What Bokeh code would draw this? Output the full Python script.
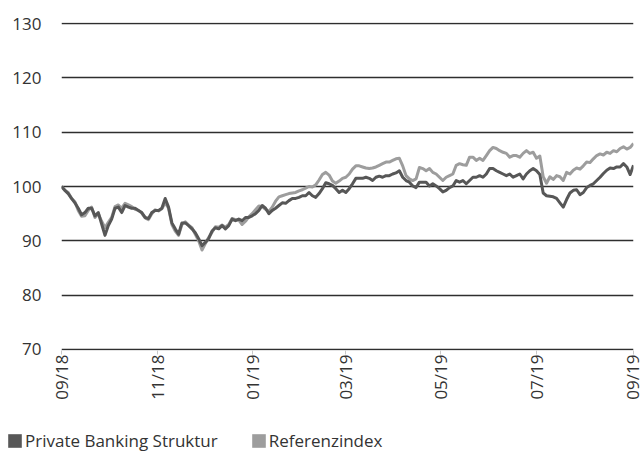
import math
import pandas as pd
from bokeh.plotting import figure
from bokeh.layouts import column
from bokeh.models import (ColumnDataSource, Range1d, FixedTicker, Legend, LegendItem,
                          CustomJSTickFormatter)
from bokeh.embed import file_html
from bokeh.resources import INLINE

# ---- data ----
start_date = "2018-09-01"
end_date = "2019-09-01"

private_banking = [
    100, 99.3, 98.7, 97.8, 97, 96, 94.8, 95.2, 96, 96, 94.6, 95.2, 93.1, 91, 92.8, 94, 96, 96.2, 95.2, 96.5,
    96.2, 96, 96, 95.6, 95.2, 94.3, 94.1, 95.2, 95.6, 95.6, 96,
    97.8, 96.2, 93.3, 92.2, 91.2, 93.3, 93.3, 92.8, 92.2, 91.5, 90.4, 89.1, 89.7, 90.4, 91.8, 92.4, 92.2, 92.8,
    92.2, 92.8, 94, 93.7, 94, 93.7, 94.3, 94.3, 94.6, 95, 95.6,
    96.5, 96, 95, 95.6, 96, 96.5, 97, 96.9, 97.4, 97.8, 97.8, 98, 98.3, 98.3, 98.9, 98.3, 98, 98.7, 99.6, 100.7,
    100.5, 100.2, 99.6, 98.9, 99.3, 98.9, 99.6, 100.5, 101.5, 101.5, 101.5, 101.7, 101.5, 101.1,
    101.7, 101.9, 101.7, 102, 102, 102.3, 102.5, 102.9, 101.7, 101.1, 100.8, 100.1, 99.8, 100.8, 100.8, 100.8,
    100.1, 100.5, 100.1, 99.6, 99, 99.3, 99.8, 100.1, 101.1, 100.8, 101.1, 100.5, 101.1, 101.7,
    101.7, 102, 101.7, 102.3, 103.3, 103.3, 102.9, 102.6, 102.3, 102, 102.3, 101.7, 102, 102.3, 101.4, 102.3,
    102.9, 103.3, 102.9, 102.2, 98.8, 98.3, 98.2, 98.1, 97.8, 97, 96.2, 97.6, 98.8, 99.3,
    99.4, 98.5, 98.9, 99.8, 100.2, 100.5, 101.1, 101.7, 102.4, 103, 103.4, 103.3, 103.6, 103.6, 104.2, 103.6,
    102.2, 103.9,
]

referenzindex = [
    100, 99.3, 98.9, 97.8, 97.2, 95.6, 94.5, 94.6, 95.6, 96.2, 94.3, 95, 93.6, 92.4, 93.4, 94.3, 96.3, 96.6, 96,
    96.9, 96.6, 96.3, 95.8, 95.6, 95.1, 94.2, 93.9, 95, 95.7, 95.5, 95.9,
    97, 96, 93, 91.8, 91, 93, 93.5, 92.9, 92.4, 91.2, 90, 88.3, 89.5, 90.6, 91.6, 92.6, 92.5, 92.9, 92.5, 93,
    94.1, 93.9, 93.8, 93, 93.6, 94.4, 95, 95.7, 96.4,
    96.3, 95.8, 95.4, 96.2, 97.3, 98.1, 98.3, 98.5, 98.7, 98.8, 98.9, 99.2, 99.4, 99.7, 100, 99.9, 100.3, 101.2,
    102.2, 102.6, 102.1, 101, 100.6, 101, 101.5, 101.7, 102.3, 103.2, 103.8, 103.8, 103.6, 103.4, 103.3, 103.4,
    103.6, 103.9, 104.2, 104.5, 104.5, 104.8, 105.1, 105.2, 103.8, 102, 101.4, 101.1, 101.4, 103.5, 103.3,
    102.9, 103.3, 102.6, 102.3, 101.7, 101.1, 101.7, 102, 102.3, 103.9, 104.2, 104, 103.9, 105.4, 105.4,
    104.8, 105.2, 104.8, 105.7, 106.6, 107.2, 107, 106.6, 106.3, 106.1, 105.4, 105.7, 105.7, 105.4, 106.1,
    106.6, 106.1, 106.3, 105.2, 105.6, 101.8, 100.6, 101.8, 101.3, 102, 101.8, 101.1, 102.6, 102.3, 103,
    103.4, 103.2, 103.8, 104.5, 104.4, 105.1, 105.7, 106, 105.8, 106.3, 106.1, 106.6, 106.4, 107, 107.3,
    106.9, 107.2, 107.9,
]

tick_dates = ["2018-09-01", "2018-11-01", "2019-01-01", "2019-03-01", "2019-05-01", "2019-07-01", "2019-09-01"]
tick_labels = ["09/18", "11/18", "01/19", "03/19", "05/19", "07/19", "09/19"]
y_ticks = [70, 80, 90, 100, 110, 120, 130]

series_names = ["Private Banking Struktur", "Referenzindex"]
dark = "#575757"
light = "#9d9d9d"
text_col = "#333333"
font = "Open Sans"

# ---- main chart ----
dates = pd.date_range(start_date, end_date, periods=len(private_banking))
src = ColumnDataSource(dict(d=dates, pb=private_banking, ref=referenzindex))

x0 = pd.Timestamp(start_date)
x1 = pd.Timestamp(end_date)

p = figure(width=643, height=410, x_axis_type="datetime",
           x_range=Range1d(x0, x1), y_range=Range1d(69.8, 130.2),
           output_backend="svg", toolbar_location=None,
           min_border_left=61, min_border_right=10, min_border_top=22, min_border_bottom=60)
p.outline_line_color = None
p.background_fill_color = "white"
p.frame_align = False

p.line("d", "ref", source=src, line_color=light, line_width=3, line_join="round")
p.line("d", "pb", source=src, line_color=dark, line_width=3, line_join="round")

tick_ms = [pd.Timestamp(t).value // 10**6 for t in tick_dates]
p.xaxis.ticker = FixedTicker(ticks=tick_ms)
p.xaxis.formatter = CustomJSTickFormatter(args=dict(tvals=tick_ms, tlabels=tick_labels), code="""
    let best = 0, bd = Infinity;
    for (let i = 0; i < tvals.length; i++) { const d = Math.abs(tvals[i] - tick); if (d < bd) { bd = d; best = i; } }
    return tlabels[best];
""")
p.xaxis.major_label_orientation = math.pi / 2
p.xaxis.axis_line_color = None
p.xaxis.major_tick_line_color = "#c8c8c8"
p.xaxis.major_tick_out = 4
p.xaxis.major_tick_in = 0
p.xaxis.minor_tick_line_color = None
p.xaxis.major_label_standoff = 0

p.yaxis.ticker = FixedTicker(ticks=y_ticks)
p.yaxis.axis_line_color = None
p.yaxis.major_tick_line_color = None
p.yaxis.minor_tick_line_color = None
p.yaxis.major_tick_out = 0
p.yaxis.major_label_standoff = 20

for ax in (p.xaxis, p.yaxis):
    ax.major_label_text_font = font
    ax.major_label_text_font_size = "17px"
    ax.major_label_text_color = text_col

p.xgrid.grid_line_color = None
p.ygrid.ticker = FixedTicker(ticks=y_ticks)
p.ygrid.grid_line_color = "#2e2e2e"
p.ygrid.grid_line_width = 1.3

# ---- legend strip ----
lg = figure(width=643, height=52, x_range=Range1d(0, 1), y_range=Range1d(0, 1),
            output_backend="svg", toolbar_location=None,
            x_axis_location=None, y_axis_location=None,
            min_border_left=0, min_border_right=0, min_border_top=0, min_border_bottom=0)
lg.outline_line_color = None
lg.xgrid.visible = False
lg.ygrid.visible = False
lg.frame_align = False
# swatch renderers only feed the legend; their single row lies outside the visible range
swatch = ColumnDataSource(dict(l=[2], r=[3], t=[3], b=[2]))
sw1 = lg.quad(left="l", right="r", top="t", bottom="b", source=swatch, fill_color=dark, line_color=None)
sw2 = lg.quad(left="l", right="r", top="t", bottom="b", source=swatch, fill_color=light, line_color=None)

legend = Legend(items=[LegendItem(label=series_names[0], renderers=[sw1]),
                       LegendItem(label=series_names[1], renderers=[sw2])],
                location=(6, 10), orientation="horizontal")
legend.label_text_font = font
legend.label_text_font_size = "17px"
legend.label_text_color = text_col
legend.glyph_width = 17
legend.glyph_height = 17
legend.label_standoff = 2
legend.spacing = 32
legend.padding = 0
legend.margin = 0
legend.border_line_color = None
legend.background_fill_alpha = 0
lg.add_layout(legend)

layout = column(p, lg, spacing=0)
open("out.html", "w").write(file_html(layout, INLINE))
